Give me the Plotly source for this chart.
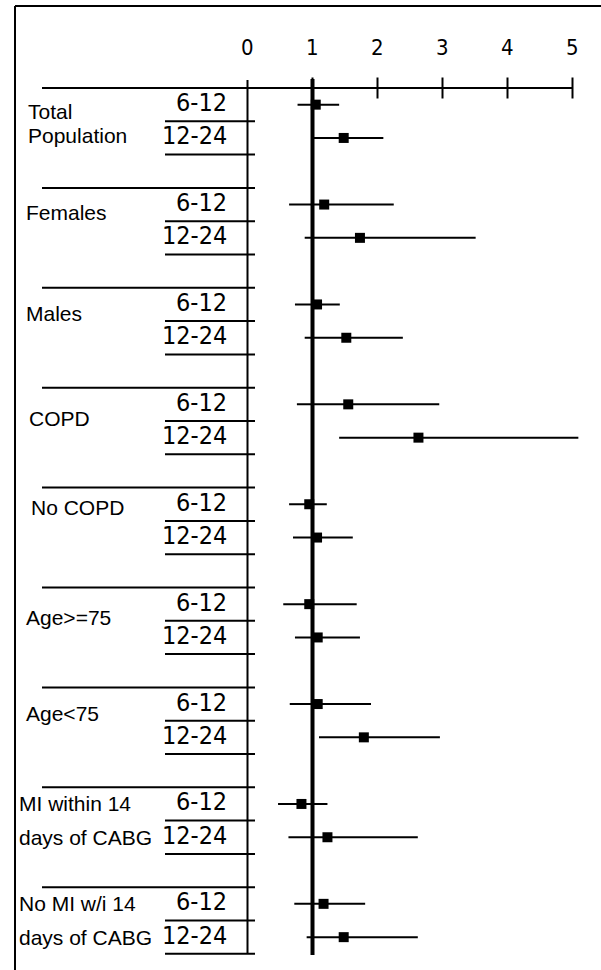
import plotly.graph_objects as go

# ---------------- data ----------------
group_lines = [["Total", "Population"], ["Females"], ["Males"], ["COPD"], ["No COPD"],
               ["Age>=75"], ["Age<75"], ["MI within 14", "days of CABG"],
               ["No MI w/i 14", "days of CABG"]]
periods = ["6-12", "12-24"]
estimate = [1.05, 1.48, 1.18, 1.73, 1.07, 1.52, 1.55, 2.63, 0.95, 1.07,
            0.95, 1.08, 1.08, 1.79, 0.83, 1.23, 1.17, 1.48]
lower = [0.77, 1.00, 0.64, 0.88, 0.73, 0.88, 0.76, 1.41, 0.64, 0.70,
         0.55, 0.73, 0.65, 1.10, 0.47, 0.63, 0.72, 0.91]
upper = [1.41, 2.09, 2.25, 3.51, 1.42, 2.39, 2.95, 5.09, 1.22, 1.62,
         1.68, 1.73, 1.90, 2.96, 1.23, 2.62, 1.81, 2.62]
tick_vals = [0, 1, 2, 3, 4, 5]
tick_text = ["0", "1", "2", "3", "4", "5"]

# ---------------- layout helpers ----------------
W, H = 601, 970
X0PX, UNIT = 247.5, 65.0          # pixel of x=0, pixels per unit
ROW0, ROWH = 88.0, 33.3           # pixel of axis line, row height


def dx(px):
    return (px - X0PX) / UNIT


def ry(py):
    return (py - ROW0) / ROWH - 0.5


n_groups = len(group_lines)
rows = []
for g in range(n_groups):
    for j in range(len(periods)):
        rows.append(3 * g + j)

# label vertical offsets within the group (row units) and left indents (px)
label_offsets = [[0.22, 0.92], [0.25], [0.26], [0.41], [0.1], [0.39], [0.27], [0.0, 1.0], [0.0, 1.0]]
label_indent = [26, 24, 24, 27, 29, 24, 24, 17, 17]

fig = go.Figure()

line_col = "black"
shapes = []
# frame
shapes.append(dict(type="line", xref="paper", yref="paper", x0=15 / W, x1=1.0, y0=1 - 6 / H, y1=1 - 6 / H,
                   line=dict(color=line_col, width=2)))
shapes.append(dict(type="line", xref="paper", yref="paper", x0=15 / W, x1=15 / W, y0=0, y1=1 - 6 / H,
                   line=dict(color=line_col, width=2)))
# horizontal axis line
shapes.append(dict(type="line", x0=dx(42), x1=tick_vals[-1], y0=-0.5, y1=-0.5,
                   line=dict(color=line_col, width=2)))
# table lines
for g in range(n_groups):
    if g > 0:
        shapes.append(dict(type="line", x0=dx(42), x1=dx(255), y0=3 * g - 0.5, y1=3 * g - 0.5,
                           line=dict(color=line_col, width=2)))
    for j in range(len(periods)):
        yy = 3 * g + j + 0.5
        shapes.append(dict(type="line", x0=dx(165), x1=dx(255), y0=yy, y1=yy,
                           line=dict(color=line_col, width=2)))
# vertical zero axis
shapes.append(dict(type="line", x0=0, x1=0, y0=ry(80), y1=ry(953),
                   line=dict(color=line_col, width=2)))
# reference line at 1
shapes.append(dict(type="line", x0=1, x1=1, y0=ry(79), y1=ry(955),
                   line=dict(color=line_col, width=4)))

# tick marks crossing the axis
fig.add_trace(go.Scatter(x=tick_vals[1:], y=[-0.5] * (len(tick_vals) - 1), mode="markers",
                         marker=dict(symbol="line-ns", size=15, line=dict(color=line_col, width=2)),
                         hoverinfo="skip", showlegend=False))

# estimates with CI
fig.add_trace(go.Scatter(
    x=estimate, y=rows, mode="markers",
    marker=dict(symbol="square", size=10, color="black"),
    error_x=dict(type="data", symmetric=False,
                 array=[u - e for u, e in zip(upper, estimate)],
                 arrayminus=[e - l for e, l in zip(estimate, lower)],
                 color="black", thickness=2, width=0),
    showlegend=False))

annotations = []
narrow = "DejaVu Sans Condensed, Liberation Sans Narrow, sans-serif"
for v, t in zip(tick_vals, tick_text):
    annotations.append(dict(x=v, y=ry(47), text=t, showarrow=False, xanchor="center", yanchor="middle",
                            font=dict(family=narrow, size=22, color="black")))
for g in range(n_groups):
    for j, p in enumerate(periods):
        annotations.append(dict(x=dx(229), y=3 * g + j - 0.06, text=p, showarrow=False,
                                xanchor="right", yanchor="middle",
                                font=dict(family=narrow, size=25, color="black")))
    for line, off in zip(group_lines[g], label_offsets[g]):
        annotations.append(dict(x=dx(label_indent[g]), y=3 * g + off, text=line, showarrow=False,
                                xanchor="left", yanchor="middle",
                                font=dict(family="Liberation Sans, Arial, sans-serif", size=21, color="black")))

fig.update_layout(
    width=W, height=H, autosize=False,
    margin=dict(l=0, r=0, t=0, b=0, pad=0),
    paper_bgcolor="white", plot_bgcolor="white",
    xaxis=dict(range=[dx(0), dx(W)], visible=False, fixedrange=True),
    yaxis=dict(range=[ry(H), ry(0)], visible=False, fixedrange=True),
    shapes=shapes, annotations=annotations, showlegend=False,
)

fig.write_html("out.html", config={"displayModeBar": False},
               post_script="document.body.style.margin='0';")
